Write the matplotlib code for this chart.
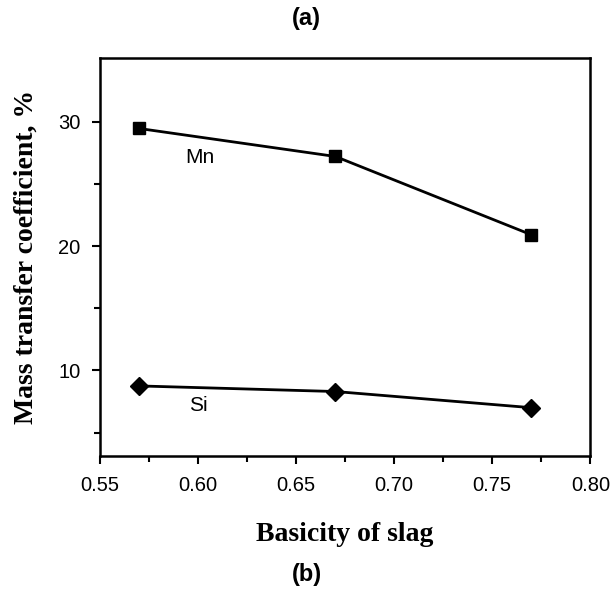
import matplotlib
matplotlib.use("Agg")
import matplotlib.pyplot as plt
from matplotlib.ticker import MultipleLocator, FixedLocator

basicity = [0.57, 0.67, 0.77]
mn_coef = [29.45, 27.2, 20.9]
si_coef = [8.75, 8.3, 7.0]

fig = plt.figure(figsize=(6.13, 5.94), dpi=100)
ax = fig.add_axes([0.163, 0.232, 0.8, 0.67])

ax.plot(basicity, mn_coef, color="black", lw=2, marker="s", ms=9)
ax.plot(basicity, si_coef, color="black", lw=2, marker="D", ms=9)

ax.text(0.601, 27.1, "Mn", fontsize=15, family="Liberation Sans", ha="center", va="center")
ax.text(0.600, 7.2, "Si", fontsize=15, family="Liberation Sans", ha="center", va="center")

ax.set_xlim(0.55, 0.80)
ax.set_ylim(3.1, 35.1)
ax.xaxis.set_major_locator(MultipleLocator(0.05))
ax.xaxis.set_minor_locator(MultipleLocator(0.025))
ax.yaxis.set_major_locator(MultipleLocator(10))
ax.yaxis.set_minor_locator(FixedLocator([5, 15, 25]))
ax.tick_params(which="both", direction="out", width=1.5, top=False, right=False, labelsize=14.5)
ax.tick_params(which="major", length=6, pad=8)
ax.tick_params(which="minor", length=4)
for lab in ax.get_xticklabels() + ax.get_yticklabels():
    lab.set_family("Liberation Sans")
for sp in ax.spines.values():
    sp.set_linewidth(1.8)

ax.set_xlabel("Basicity of slag", fontsize=20, fontweight="bold", family="Liberation Serif", labelpad=20)
ax.set_ylabel("Mass transfer coefficient, %", fontsize=20, fontweight="bold", family="Liberation Serif", labelpad=14)

fig.text(0.5, 0.969, "(a)", fontsize=17, fontweight="bold", family="Liberation Sans", ha="center", va="center")
fig.text(0.5, 0.032, "(b)", fontsize=17, fontweight="bold", family="Liberation Sans", ha="center", va="center")

fig.savefig("out.png", dpi=100)
